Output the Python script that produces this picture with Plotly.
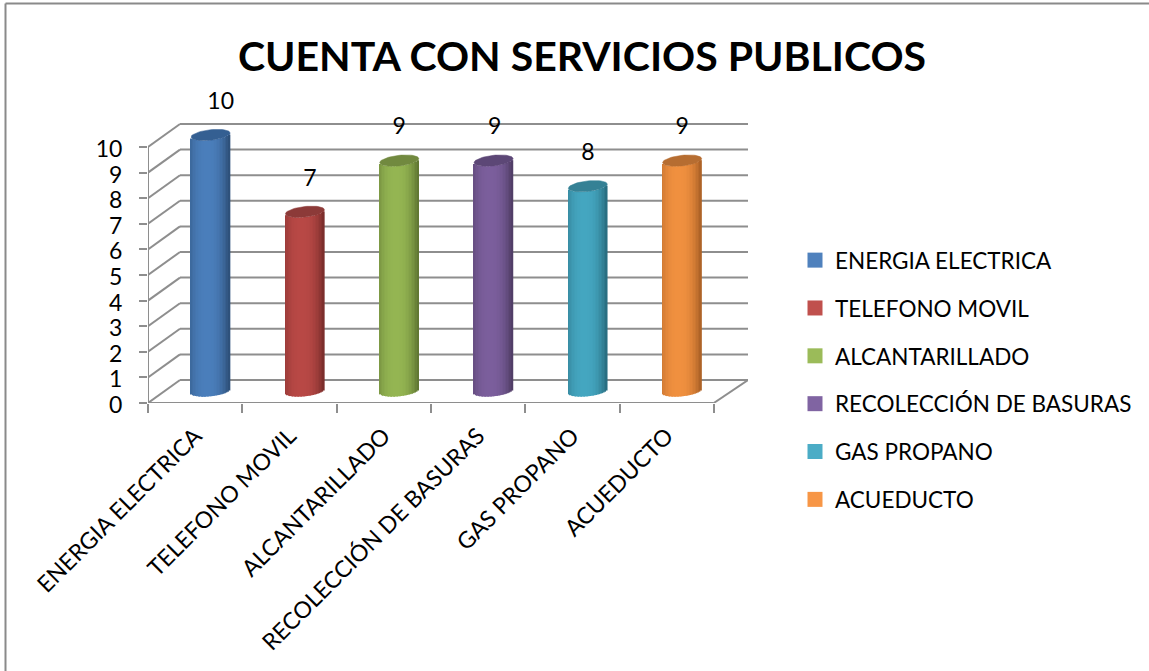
import numpy as np
import plotly.graph_objects as go

# data
CATEGORIES = ["ENERGIA ELECTRICA", "TELEFONO MOVIL", "ALCANTARILLADO",
              "RECOLECCIÓN DE BASURAS", "GAS PROPANO", "ACUEDUCTO"]
VALUES = [10, 7, 9, 9, 8, 9]
Y_TICKS = list(range(11))

# colours: legend/body, bar edge, top cap
BODY = ["#4a7ebb", "#b84845", "#94b552", "#7b5e9c", "#44a6c0", "#f0903f"]
EDGE = ["#2c4d75", "#772c2a", "#5c7330", "#4d3b62", "#276a7c", "#a85f25"]
CAP = ["#345f92", "#8c3a38", "#71893f", "#5c4776", "#358195", "#b66d31"]
LEGEND = ["#4f81bd", "#c0504d", "#9bbb59", "#8064a2", "#4bacc6", "#f79646"]

FONT = "Lato"
GRID = "#8e8e8e"

# fake 3d geometry, in pixels
PX_X = 94.3
PX_Y = 25.6
PLOT_L, PLOT_R, PLOT_T, PLOT_B = 148, 748, 70, 403
DEPTH_X = 32 / PX_X
DEPTH_Y = 23 / PX_Y
BAR_HALF = 19.5 / PX_X
ELL_B = 5.3 / PX_Y
ELL_TILT = 2 / PX_Y
N_STRIPS = 26
XMAX = (PLOT_R - PLOT_L) / PX_X
YMAX = (PLOT_B - PLOT_T) / PX_Y
CENTER_X = 15.5 / PX_X
CENTER_Y = 12 / PX_Y
LABEL_UP = 32 / PX_Y
LABEL_NUDGE = [10 / PX_X, 5 / PX_X, 0, 1 / PX_X, 0, 0]


def mix(c1, c2, f):
    a = [int(c1[i:i + 2], 16) for i in (1, 3, 5)]
    b = [int(c2[i:i + 2], 16) for i in (1, 3, 5)]
    return "rgb(%d,%d,%d)" % tuple(round(p + (q - p) * f) for p, q in zip(a, b))


def lower_arc(t):
    # lower edge of the tilted ellipse, t runs from -1 to 1 across the bar
    return -ELL_B * np.sqrt(1 - t ** 2) + ELL_TILT * t


fig = go.Figure()

# cylinders, each one a row of thin bars
ts = (np.arange(N_STRIPS) + 0.5) / N_STRIPS * 2 - 1
for i, val in enumerate(VALUES):
    cx = i + 0.5 + CENTER_X
    offs = lower_arc(ts)
    shade = np.clip(1 - np.abs(ts + 0.15) ** 2.5 / 1.15 ** 2.5, 0, 1)
    fig.add_trace(go.Bar(
        x=cx + ts * BAR_HALF,
        y=[val] * N_STRIPS,
        base=CENTER_Y + offs,
        width=BAR_HALF * 2 / N_STRIPS * 1.25,
        marker=dict(color=[mix(EDGE[i], BODY[i], s) for s in shade], line_width=0),
        showlegend=False,
        hoverinfo="skip",
    ))

# top caps
theta = np.linspace(0, 2 * np.pi, 61)
for i, val in enumerate(VALUES):
    cx = i + 0.5 + CENTER_X
    fig.add_trace(go.Scatter(
        x=cx + BAR_HALF * np.cos(theta),
        y=CENTER_Y + val + ELL_B * np.sin(theta) + ELL_TILT * np.cos(theta),
        mode="lines",
        fill="toself",
        fillcolor=CAP[i],
        line=dict(color=CAP[i], width=0.5),
        showlegend=False,
        hoverinfo="skip",
    ))

# data labels
fig.add_trace(go.Scatter(
    x=[i + 0.5 + CENTER_X + LABEL_NUDGE[i] for i in range(len(VALUES))],
    y=[v + CENTER_Y + LABEL_UP for v in VALUES],
    mode="text",
    text=[str(v) for v in VALUES],
    textposition="middle center",
    textfont=dict(family=FONT, size=23, color="#000000"),
    cliponaxis=False,
    showlegend=False,
    hoverinfo="skip",
))

# legend entries
for i, name in enumerate(CATEGORIES):
    fig.add_trace(go.Scatter(
        x=[None], y=[None],
        mode="markers",
        name=name,
        legendgroup=name,
        marker=dict(symbol="square", size=15, color=LEGEND[i]),
    ))

# walls and floor go under the bars
shapes = []


def seg(x0, y0, x1, y1):
    shapes.append(dict(type="line", xref="x", yref="y", layer="below",
                       x0=x0, y0=y0, x1=x1, y1=y1,
                       line=dict(color=GRID, width=2)))


for v in Y_TICKS:
    seg(0, v, DEPTH_X, v + DEPTH_Y)
    seg(DEPTH_X, v + DEPTH_Y, XMAX, v + DEPTH_Y)
seg(0, 0, 0, Y_TICKS[-1])
seg(0, 0, len(CATEGORIES), 0)
seg(len(CATEGORIES), 0, XMAX, DEPTH_Y)

# chart frame, as in the pasted picture
W, H = 1149, 671
px_x = lambda p: (p - PLOT_L) / (PLOT_R - PLOT_L)
px_y = lambda p: (PLOT_B - p) / (PLOT_B - PLOT_T)
for x0, y0, x1, y1 in [(5.5, 3.5, 5.5, H), (5.5, 3.5, W, 3.5)]:
    shapes.append(dict(type="line", xref="paper", yref="paper",
                       x0=px_x(x0), y0=px_y(y0), x1=px_x(x1), y1=px_y(y1),
                       line=dict(color="#8a8a8a", width=2)))

fig.update_layout(
    width=W, height=H,
    margin=dict(l=PLOT_L, r=W - PLOT_R, t=PLOT_T, b=H - PLOT_B, autoexpand=False),
    paper_bgcolor="white",
    plot_bgcolor="rgba(0,0,0,0)",
    barmode="overlay",
    shapes=shapes,
    font=dict(family=FONT, color="#000000", size=23),
    title=dict(text="CUENTA CON SERVICIOS PUBLICOS",
               font=dict(family=FONT, size=41, color="#000000", weight=700),
               x=582 / W, xanchor="center", xref="container",
               y=1 - 57 / H, yanchor="middle", yref="container"),
    xaxis=dict(
        range=[0, XMAX],
        tickmode="array",
        tickvals=[i + 0.5 for i in range(len(CATEGORIES))],
        ticktext=CATEGORIES,
        tickangle=-45,
        ticks="",
        ticklabelstandoff=14,
        showgrid=False,
        zeroline=False,
        showline=False,
        tickfont=dict(family=FONT, size=23),
        minor=dict(tickmode="array", tickvals=list(range(len(CATEGORIES) + 1)),
                   ticks="outside", ticklen=9, tickwidth=2, tickcolor=GRID,
                   showgrid=False),
    ),
    yaxis=dict(
        range=[0, YMAX],
        tickmode="array",
        tickvals=Y_TICKS,
        ticks="outside",
        ticklen=8,
        tickwidth=2,
        tickcolor=GRID,
        ticklabelstandoff=12,
        ticklabelshift=2,
        showgrid=False,
        zeroline=False,
        showline=False,
        tickfont=dict(family=FONT, size=23),
    ),
    legend=dict(
        x=px_x(795),
        y=px_y(239),
        xanchor="left",
        yanchor="top",
        tracegroupgap=15.6,
        maxheight=400,
        itemclick=False,
        font=dict(family=FONT, size=22.5, color="#000000"),
        bgcolor="rgba(0,0,0,0)",
    ),
)

fig.write_html("out.html", config={"displayModeBar": False},
               post_script="document.body.style.margin='0';")
